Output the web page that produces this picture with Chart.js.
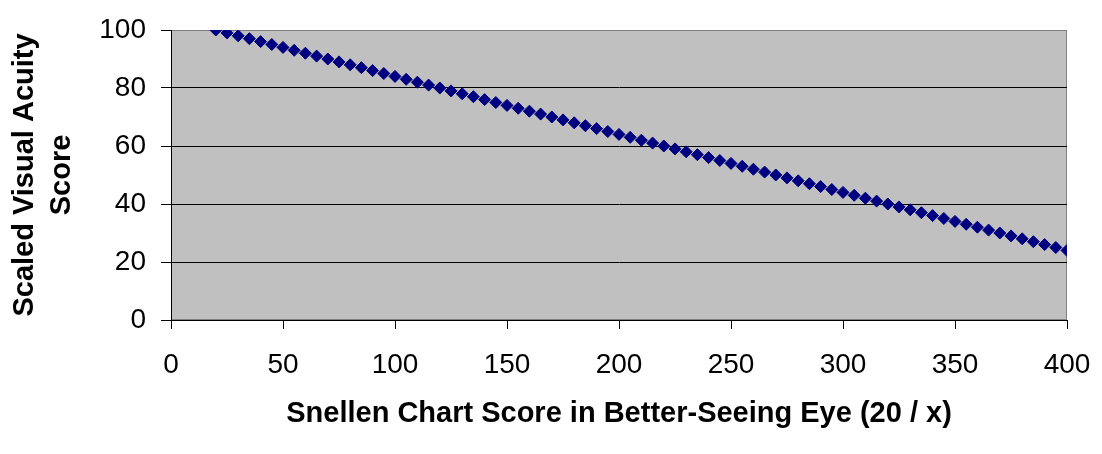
<!DOCTYPE html>
<html>
<head>
<meta charset="utf-8">
<script src="https://cdn.jsdelivr.net/npm/chart.js@4/dist/chart.umd.min.js"></script>
<style>
  html, body { margin: 0; padding: 0; background: #fff; }
  #wrap { width: 1102px; height: 454px; }
</style>
</head>
<body>
<div id="wrap"><canvas id="acuityChart" width="1102" height="454"></canvas></div>
<script>
// Snellen denominator (20 / x) and the scaled score
const snellenX = [
  20, 25, 30, 35, 40, 45, 50, 55, 60, 65, 70, 75, 80, 85, 90, 95,
  100, 105, 110, 115, 120, 125, 130, 135, 140, 145, 150, 155, 160, 165, 170, 175,
  180, 185, 190, 195, 200, 205, 210, 215, 220, 225, 230, 235, 240, 245, 250, 255,
  260, 265, 270, 275, 280, 285, 290, 295, 300, 305, 310, 315, 320, 325, 330, 335,
  340, 345, 350, 355, 360, 365, 370, 375, 380, 385, 390, 395, 400
];
const scaledScore = [
  100, 99, 98, 97, 96, 95, 94, 93, 92, 91, 90, 89, 88, 87, 86, 85,
  84, 83, 82, 81, 80, 79, 78, 77, 76, 75, 74, 73, 72, 71, 70, 69,
  68, 67, 66, 65, 64, 63, 62, 61, 60, 59, 58, 57, 56, 55, 54, 53,
  52, 51, 50, 49, 48, 47, 46, 45, 44, 43, 42, 41, 40, 39, 38, 37,
  36, 35, 34, 33, 32, 31, 30, 29, 28, 27, 26, 25, 24
];
const xTicks = [0, 50, 100, 150, 200, 250, 300, 350, 400];
const yTicks = [0, 20, 40, 60, 80, 100];

const FONT = "'Liberation Sans', Arial, sans-serif";

// gray plot background with a thin gray frame (top/right), like the old Excel look
const plotBackground = {
  id: "plotBackground",
  beforeDraw(chart) {
    const { ctx, chartArea: a } = chart;
    ctx.save();
    ctx.fillStyle = "#c0c0c0";
    ctx.fillRect(a.left, a.top, a.right - a.left, a.bottom - a.top);
    ctx.strokeStyle = "#808080";
    ctx.lineWidth = 1;
    ctx.strokeRect(a.left + 0.5, a.top + 0.5, a.right - a.left - 1, a.bottom - a.top - 1);
    ctx.restore();
  }
};

document.addEventListener("DOMContentLoaded", function () {
  const ctx = document.getElementById("acuityChart").getContext("2d");
  new Chart(ctx, {
    type: "scatter",
    data: {
      datasets: [{
        label: "Scaled Visual Acuity Score",
        data: snellenX.map((x, i) => ({ x: x, y: scaledScore[i] })),
        pointStyle: "rectRot",
        pointRadius: 6,
        pointHoverRadius: 6,
        backgroundColor: "#000080",
        borderColor: "#000080",
        borderWidth: 1,
        showLine: false
      }]
    },
    options: {
      responsive: false,
      animation: false,
      layout: { padding: { top: 30, right: 35, left: 0, bottom: 0 } },
      plugins: {
        legend: { display: false },
        tooltip: { enabled: false }
      },
      scales: {
        x: {
          type: "linear",
          min: 0,
          max: 400,
          afterBuildTicks: (scale) => { scale.ticks = xTicks.map(v => ({ value: v })); },
          afterFit: (scale) => {
            scale.height = 134;
            scale.paddingLeft = 0;
            scale.paddingRight = 0;
          },
          ticks: {
            color: "#000",
            padding: 19,
            maxRotation: 0,
            font: { family: FONT, size: 28 }
          },
          grid: {
            drawOnChartArea: false,
            drawTicks: true,
            tickLength: 9,
            color: "#000",
            tickColor: "#000"
          },
          border: { display: true, color: "#000", width: 1 },
          title: {
            display: true,
            text: "Snellen Chart Score in Better-Seeing Eye (20 / x)",
            color: "#000",
            padding: { top: 0, bottom: 23 },
            font: { family: FONT, size: 29, weight: "bold" }
          }
        },
        y: {
          min: 0,
          max: 100,
          afterBuildTicks: (scale) => { scale.ticks = yTicks.map(v => ({ value: v })); },
          afterFit: (scale) => {
            scale.width = 171;
            scale.paddingTop = 0;
            scale.paddingBottom = 0;
          },
          ticks: {
            color: "#000",
            padding: 15,
            font: { family: FONT, size: 28 }
          },
          grid: {
            drawTicks: true,
            tickLength: 10,
            color: (c) => (c.tick && c.tick.value === 100 ? "#808080" : "#000"),
            tickColor: "#000"
          },
          border: { display: true, color: "#000", width: 1 },
          title: {
            display: true,
            text: ["Scaled Visual Acuity", "Score"],
            color: "#000",
            padding: { top: 6, bottom: 0 },
            font: { family: FONT, size: 29, weight: "bold", lineHeight: 1.28 }
          }
        }
      }
    },
    plugins: [plotBackground]
  });
});
</script>
</body>
</html>
